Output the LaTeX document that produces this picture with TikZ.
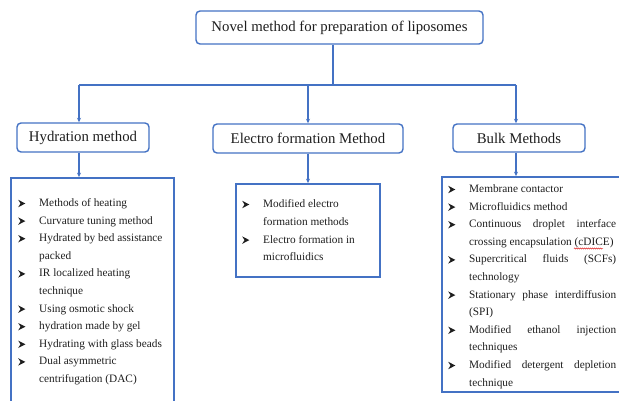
\documentclass[tikz,border=0pt]{standalone}
\usepackage{fontspec}
\setmainfont{Liberation Serif}
\newfontfamily\tnr{Liberation Serif}
\usetikzlibrary{arrows.meta,decorations.pathmorphing}
\definecolor{bl}{HTML}{4472C4}
\definecolor{tx}{HTML}{1E1E1E}
\newcommand{\bul}{\tikz[x=1pt,y=1pt,baseline=-3pt]\fill[tx] (0,3.7) -- (7.2,0) -- (0,-3.7) -- (2.3,0) -- cycle;}
\newcommand{\itm}{\makebox[21pt][l]{\bul}}
\newcommand{\cnt}{\hspace*{21pt}}
\newcommand{\jl}[1]{\makebox[147pt][s]{#1}}
\newcommand{\lfont}{\tnr\fontsize{11.3}{17.6}\selectfont}
\begin{document}
\begin{tikzpicture}[x=1pt,y=-1pt,
  head/.style={draw=bl, line width=1.4pt, rounded corners=4pt, fill=white,
    text=tx, font=\tnr\fontsize{14.8}{17}\selectfont, inner sep=0pt},
  listbox/.style={draw=bl, line width=1.8pt, inner sep=0pt},
  lt/.style={text=tx, inner sep=0pt, anchor=base west},
  conn/.style={draw=bl, line width=1.2pt},
  arr/.style={conn, -{Stealth[length=4.5pt,width=4pt]}}]
\useasboundingbox (0,0) rectangle (619,400);
% header boxes
\node[head, minimum width=287pt, minimum height=33pt] (top) at (339.5,27.5) {Novel method for preparation of liposomes};
\node[head, minimum width=132pt, minimum height=29pt] (hyd) at (83,137.5) {Hydration method};
\node[head, minimum width=190pt, minimum height=29pt] (ele) at (308,138.5) {Electro formation Method};
\node[head, minimum width=132pt, minimum height=28pt] (blk) at (519,138) {Bulk Methods};
% list boxes
\node[listbox, minimum width=163pt, minimum height=226pt] (hlist) at (92.5,291) {};
\node[listbox, minimum width=144pt, minimum height=93pt] (elist) at (308,230.5) {};
\node[listbox, minimum width=181pt, minimum height=215pt] (blist) at (532.5,284.5) {};
% connectors
\coordinate (j) at (333,85);
\coordinate (hl) at (79,85);
\coordinate (hm) at (308,85);
\coordinate (hr) at (516,85);
\draw[conn] (top.south -| j) -- (j);
\draw[conn] (hl) -- (hr);
\draw[arr] (hl) -- (hl |- hyd.north);
\draw[arr] (hm) -- (hm |- ele.north);
\draw[arr] (hr) -- (hr |- blk.north);
\draw[arr] (hl |- hyd.south) -- (hl |- hlist.north);
\draw[arr] (hm |- ele.south) -- (hm |- elist.north);
\draw[arr] (hr |- blk.south) -- (hr |- blist.north);
% list texts
\node[lt] (htext) at (18,206.5) {\parbox[t]{160pt}{\raggedright\lfont
\itm Methods of heating\\
\itm Curvature tuning method\\
\itm Hydrated by bed assistance\\
\cnt packed\\
\itm IR localized heating\\
\cnt technique\\
\itm Using osmotic shock\\
\itm hydration made by gel\\
\itm Hydrating with glass beads\\
\itm Dual asymmetric\\
\cnt centrifugation (DAC)}};
\node[lt] (etext) at (242,207.5) {\parbox[t]{140pt}{\raggedright\tnr\fontsize{11.3}{17.8}\selectfont
\itm Modified electro\\
\cnt formation methods\\
\itm Electro formation in\\
\cnt microfluidics}};
\node[lt] (btext) at (448,192.5) {\parbox[t]{170pt}{\raggedright\lfont
\itm Membrane contactor\\
\itm Microfluidics method\\
\itm \jl{Continuous droplet interface}\\
\cnt crossing encapsulation (cDICE)\\
\itm \jl{Supercritical fluids (SCFs)}\\
\cnt technology\\
\itm \jl{Stationary phase interdiffusion}\\
\cnt (SPI)\\
\itm \jl{Modified ethanol injection}\\
\cnt techniques\\
\itm \jl{Modified detergent depletion}\\
\cnt technique}};
% spell-check squiggle under cDICE
\draw[red!85!black, line width=0.4pt, decorate,
  decoration={snake, amplitude=0.6pt, segment length=2pt}] (574,248.5) -- (603,248.5);
\end{tikzpicture}
\end{document}
